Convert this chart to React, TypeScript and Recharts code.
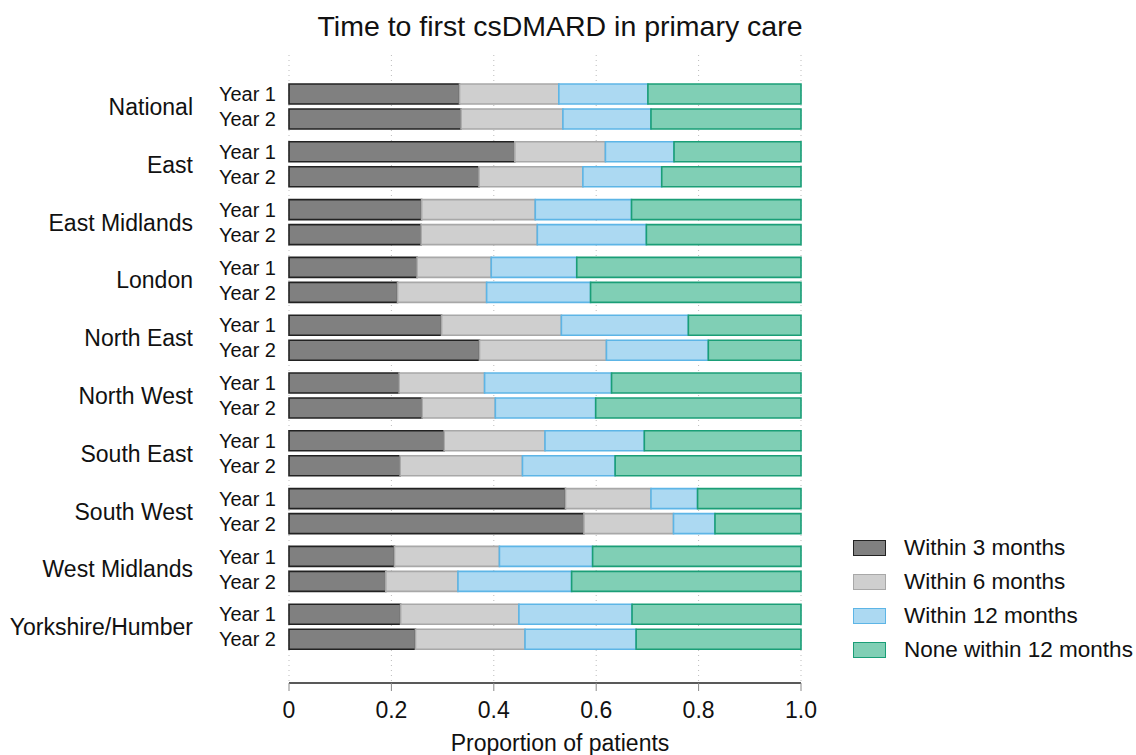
import { BarChart, Bar, XAxis, YAxis, CartesianGrid, LabelList } from "recharts";

const regions = [
  "National", "East", "East Midlands", "London", "North East",
  "North West", "South East", "South West", "West Midlands", "Yorkshire/Humber",
];

// Year 1 segments
const within3Y1 = [0.333, 0.441, 0.259, 0.25, 0.298, 0.215, 0.303, 0.54, 0.206, 0.218];
const within6Y1 = [0.194, 0.177, 0.222, 0.145, 0.234, 0.167, 0.197, 0.167, 0.205, 0.231];
const within12Y1 = [0.174, 0.134, 0.188, 0.167, 0.248, 0.248, 0.194, 0.091, 0.182, 0.221];
const noneY1 = [0.299, 0.248, 0.331, 0.438, 0.22, 0.37, 0.306, 0.202, 0.407, 0.33];

// Year 2 segments
const within3Y2 = [0.336, 0.371, 0.258, 0.212, 0.372, 0.26, 0.217, 0.576, 0.189, 0.247];
const within6Y2 = [0.199, 0.203, 0.227, 0.174, 0.248, 0.143, 0.239, 0.175, 0.141, 0.214];
const within12Y2 = [0.172, 0.154, 0.213, 0.203, 0.199, 0.196, 0.181, 0.081, 0.222, 0.217];
const noneY2 = [0.293, 0.272, 0.302, 0.411, 0.181, 0.401, 0.363, 0.168, 0.448, 0.322];

const xTicks = [0, 0.2, 0.4, 0.6, 0.8, 1.0];

const seriesNames = ["Within 3 months", "Within 6 months", "Within 12 months", "None within 12 months"];
const fills = ["#808080", "#cfcfcf", "#acd9f2", "#80cfb5"];
const strokes = ["#222222", "#a8a8a8", "#5db5e6", "#1a9e77"];

const data = regions.map((region, i) => ({
  region,
  a1: within3Y1[i], b1: within6Y1[i], c1: within12Y1[i], d1: noneY1[i],
  a2: within3Y2[i], b2: within6Y2[i], c2: within12Y2[i], d2: noneY2[i],
}));

const keys1 = ["a1", "b1", "c1", "d1"];
const keys2 = ["a2", "b2", "c2", "d2"];

function LegendBox() {
  return (
    <div style={{ position: "absolute", left: 853, top: 531, width: 283, display: "flex", flexDirection: "column" }}>
      {seriesNames.map((name, i) => (
        <div key={name} style={{ display: "flex", alignItems: "center", height: 34, whiteSpace: "nowrap" }}>
          <span
            style={{
              display: "inline-block",
              flex: "none",
              width: 31,
              height: 14,
              background: fills[i],
              border: `1.5px solid ${strokes[i]}`,
              marginRight: 18,
            }}
          />
          <span style={{ fontSize: 22.5, color: "#111" }}>{name}</span>
        </div>
      ))}
    </div>
  );
}

export default function App() {
  return (
    <div
      style={{
        position: "absolute",
        left: 0,
        top: 0,
        width: 1136,
        height: 755,
        overflow: "hidden",
        fontFamily: "'Liberation Sans', Arial, sans-serif",
        background: "#fff",
      }}
    >
      <div
        style={{
          position: "absolute",
          left: 0,
          width: 1120,
          top: 10,
          textAlign: "center",
          fontSize: 28.5,
          color: "#111",
        }}
      >
        Time to first csDMARD in primary care
      </div>
      <BarChart
        width={1136}
        height={755}
        data={data}
        layout="vertical"
        margin={{ top: 55, right: 335, bottom: 0, left: 0 }}
        barGap={5}
      >
        <CartesianGrid horizontal={false} strokeDasharray="1 4" stroke="#bbbbbb" />
        <XAxis
          type="number"
          domain={[0, 1]}
          ticks={xTicks}
          tickFormatter={(v: number) => (v === 0 ? "0" : v.toFixed(1))}
          height={72}
          tickSize={8}
          tickMargin={11}
          axisLine={{ stroke: "#222", strokeWidth: 1.5 }}
          tickLine={{ stroke: "#888" }}
          tick={{ fill: "#111", fontSize: 23 }}
          label={{ value: "Proportion of patients", position: "insideBottom", offset: 4, dx: 15, fill: "#111", fontSize: 23 }}
        />
        <YAxis
          type="category"
          dataKey="region"
          width={289}
          axisLine={false}
          tickLine={false}
          tickMargin={90}
          padding={{ top: 23, bottom: 27 }}
          tick={{ fill: "#111", fontSize: 23 }}
        />
        {keys1.map((k, i) => (
          <Bar
            key={k}
            dataKey={k}
            name={seriesNames[i]}
            stackId="y1"
            barSize={20}
            fill={fills[i]}
            stroke={strokes[i]}
            strokeWidth={1.6}
            isAnimationActive={false}
          >
            {i === 0 && (
              <LabelList
                dataKey={k}
                position="left"
                offset={13}
                formatter={() => "Year 1"}
                fill="#111"
                fontSize={20}
              />
            )}
          </Bar>
        ))}
        {keys2.map((k, i) => (
          <Bar
            key={k}
            dataKey={k}
            name={seriesNames[i] + " (Year 2)"}
            stackId="y2"
            barSize={20}
            fill={fills[i]}
            stroke={strokes[i]}
            strokeWidth={1.6}
            isAnimationActive={false}
          >
            {i === 0 && (
              <LabelList
                dataKey={k}
                position="left"
                offset={13}
                formatter={() => "Year 2"}
                fill="#111"
                fontSize={20}
              />
            )}
          </Bar>
        ))}
      </BarChart>
      <LegendBox />
    </div>
  );
}
